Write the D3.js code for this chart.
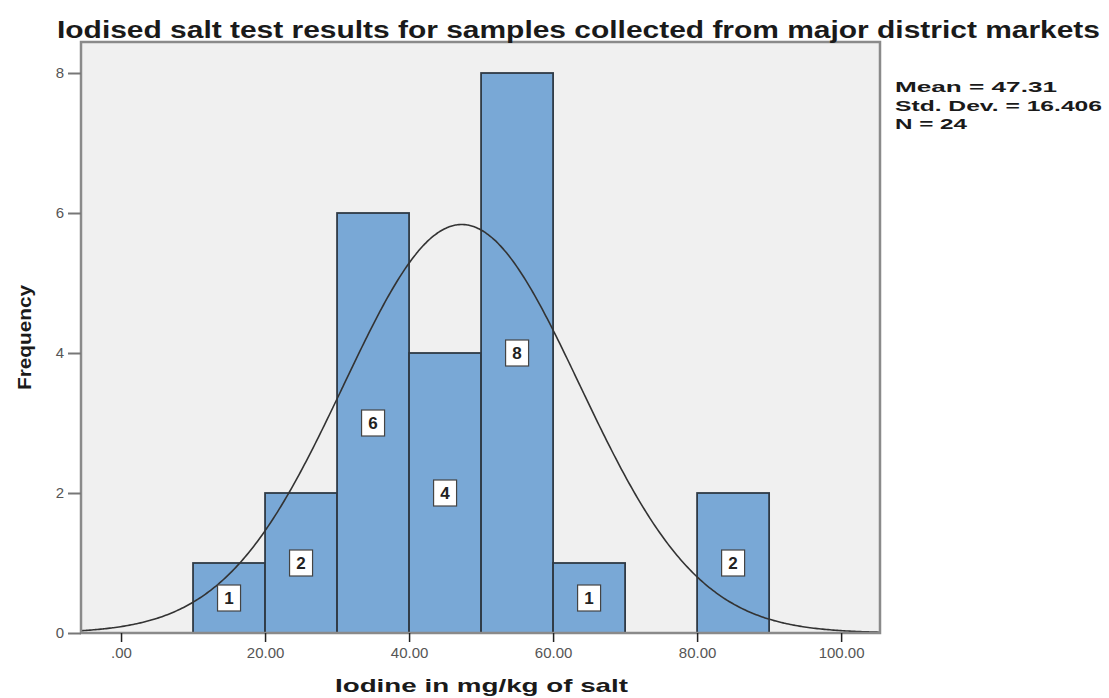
<!DOCTYPE html>
<html><head><meta charset="utf-8">
<script src="https://cdn.jsdelivr.net/npm/d3@7"></script>
<style>body{margin:0;background:#fff}svg{display:block}</style>
</head><body>
<svg id="c" width="1109" height="698"></svg>
<script>
const binStarts = [10, 20, 30, 40, 50, 60, 80];
const binWidth = 10;
const frequencies = [1, 2, 6, 4, 8, 1, 2];
const xTicks = [0, 20, 40, 60, 80, 100];
const xTickLabels = [".00", "20.00", "40.00", "60.00", "80.00", "100.00"];
const yTicks = [0, 2, 4, 6, 8];
const stats = { mean: 47.31, sd: 16.406, n: 24 };
const statLines = ["Mean = 47.31", "Std. Dev. = 16.406", "N = 24"];
const titleText = "Iodised salt test results for samples collected from major district markets";
const xTitle = "Iodine in mg/kg of salt";
const yTitle = "Frequency";

const svg = d3.select("#c");
const L = 81, R = 880, T = 42, B = 633;
const x = d3.scaleLinear().domain([-5.56, 105.4]).range([L, R]);
const y = d3.scaleLinear().domain([0, 8.443]).range([B, T]);
const font = "'Liberation Sans', Arial, sans-serif";

svg.append("rect").attr("x", L).attr("y", T).attr("width", R - L).attr("height", B - T)
  .attr("fill", "#f0f0f0");

svg.append("clipPath").attr("id", "pc").append("rect")
  .attr("x", L).attr("y", T).attr("width", R - L).attr("height", B - T);

// bars
svg.append("g").selectAll("rect").data(binStarts).join("rect")
  .attr("x", d => x(d)).attr("width", d => x(d + binWidth) - x(d))
  .attr("y", (d, i) => y(frequencies[i])).attr("height", (d, i) => y(0) - y(frequencies[i]))
  .attr("fill", "#79a8d6").attr("stroke", "#2f3a45").attr("stroke-width", 1.8);

// normal curve
const scale = stats.n * binWidth / (stats.sd * Math.sqrt(2 * Math.PI));
const pts = d3.range(-5.56, 105.5, 0.25).map(v => [v, scale * Math.exp(-0.5 * Math.pow((v - stats.mean) / stats.sd, 2))]);
svg.append("path").datum(pts).attr("clip-path", "url(#pc)")
  .attr("d", d3.line().x(d => x(d[0])).y(d => y(d[1])).curve(d3.curveBasis))
  .attr("fill", "none").attr("stroke", "#333").attr("stroke-width", 1.6);

// frame
svg.append("rect").attr("x", L).attr("y", T).attr("width", R - L).attr("height", B - T)
  .attr("fill", "none").attr("stroke", "#8a8a8a").attr("stroke-width", 2.5);

// labels in bars
const lg = svg.append("g").selectAll("g").data(binStarts).join("g")
  .attr("transform", (d, i) => `translate(${x(d + binWidth / 2)},${y(frequencies[i] / 2)})`);
lg.append("rect").attr("x", -11.5).attr("y", -13).attr("width", 23).attr("height", 26)
  .attr("fill", "#fff").attr("stroke", "#444").attr("stroke-width", 1.2);
lg.append("text").text((d, i) => frequencies[i]).attr("text-anchor", "middle").attr("dy", "0.36em")
  .attr("font-family", font).attr("font-weight", "bold").attr("font-size", 17).attr("fill", "#222");

// axes
const xAxis = svg.append("g").attr("transform", `translate(0,${B})`)
  .call(d3.axisBottom(x).tickValues(xTicks).tickFormat((d, i) => xTickLabels[i]).tickSize(9).tickPadding(5));
xAxis.select(".domain").remove();
xAxis.selectAll("line").attr("stroke", "#222").attr("stroke-width", 1.5);
xAxis.selectAll("text").attr("font-family", font).attr("font-size", 15).attr("fill", "#555");

const yAxis = svg.append("g").attr("transform", `translate(${L},0)`)
  .call(d3.axisLeft(y).tickValues(yTicks).tickFormat(d3.format("d")).tickSize(13).tickPadding(4));
yAxis.select(".domain").remove();
yAxis.selectAll("line").attr("stroke", "#777").attr("stroke-width", 2);
yAxis.selectAll("text").attr("font-family", font).attr("font-size", 15).attr("fill", "#555");

// title
svg.append("text").attr("x", 57).attr("y", 38).text(titleText)
  .attr("font-family", font).attr("font-weight", "bold").attr("font-size", 23).attr("fill", "#1a1a1a")
  .attr("textLength", 1043).attr("lengthAdjust", "spacingAndGlyphs");

// axis titles
svg.append("text").attr("x", 335).attr("y", 692).text(xTitle)
  .attr("font-family", font).attr("font-weight", "bold").attr("font-size", 19).attr("fill", "#1a1a1a")
  .attr("textLength", 293).attr("lengthAdjust", "spacingAndGlyphs");
svg.append("text").attr("transform", "translate(31,390) rotate(-90)").text(yTitle)
  .attr("font-family", font).attr("font-weight", "bold").attr("font-size", 18).attr("fill", "#1a1a1a")
  .attr("textLength", 105).attr("lengthAdjust", "spacingAndGlyphs");

// stats
const widths = [162, 207, 72];
svg.append("g").selectAll("text").data(statLines).join("text")
  .attr("x", 895).attr("y", (d, i) => 92 + i * 18.5).text(d => d)
  .attr("font-family", font).attr("font-weight", "bold").attr("font-size", 15.5).attr("fill", "#1a1a1a")
  .attr("textLength", (d, i) => widths[i]).attr("lengthAdjust", "spacingAndGlyphs");
</script>
</body></html>
